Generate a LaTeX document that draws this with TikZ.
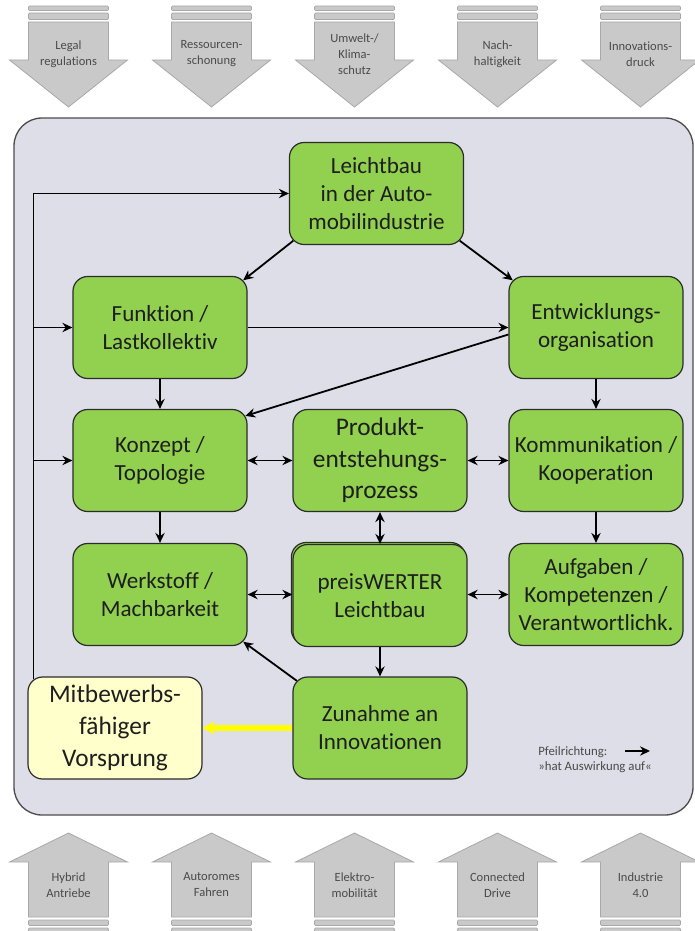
\documentclass[tikz,border=0pt]{standalone}
\usepackage{fontspec}
\setmainfont{Carlito}[Ligatures=NoCommon]
\usetikzlibrary{arrows.meta,calc,shadows}

\definecolor{panelfill}{HTML}{DEDEE8}
\definecolor{panelline}{HTML}{4D4D4D}
\definecolor{boxgreen}{HTML}{92D050}
\definecolor{boxedge}{HTML}{2B2B2B}
\definecolor{boxyellow}{HTML}{FFFFCC}
\definecolor{arrowgray}{HTML}{C9C9C9}
\definecolor{arrowedge}{HTML}{A8A8A8}
\definecolor{txtgray}{HTML}{4A4A4A}
\definecolor{boxtext}{HTML}{1E1E1E}
\definecolor{signal}{HTML}{FFFF00}

\tikzset{
  box/.style={draw=boxedge, line width=0.9pt, fill=boxgreen, rounded corners=11pt,
    minimum width=130.5pt, minimum height=76.5pt, align=center, inner sep=2pt,
    font=\fontsize{17.3}{21}\selectfont, text=boxtext},
  bigtext/.style={font=\fontsize{19}{23.8}\selectfont},
  arrtext/.style={align=center, inner sep=0pt, text=txtgray, font=\fontsize{9.4}{12}\selectfont},
  legendtext/.style={inner sep=0pt, anchor=west, text=txtgray, font=\fontsize{9.6}{11}\selectfont},
  flow/.style={draw=arrowedge, fill=arrowgray, line width=0.6pt, line join=miter},
  stripe/.style={draw=arrowedge, fill=arrowgray, line width=0.5pt, rounded corners=0.8pt},
  link/.style={line width=1.35pt, -{Stealth[length=7.5pt,width=7pt,inset=2.5pt]}},
  both/.style={line width=1.35pt, {Stealth[length=7.5pt,width=7pt,inset=2.5pt]}-{Stealth[length=7.5pt,width=7pt,inset=2.5pt]}},
  gain/.style={draw=signal, line width=3.8pt, -{Stealth[length=9pt,width=10pt,inset=3pt]}},
}

\begin{document}
\begin{tikzpicture}[x=0.75pt, y=-0.75pt]
\useasboundingbox (0,0) rectangle (695,931);

% influences from above
\foreach \c/\t [count=\i] in {68.5/{Legal\\regulations}, 211.5/{Ressourcen-\\schonung},
    354.5/{Umwelt-/\\Klima-\\schutz}, 497.5/{Nach-\\haltigkeit}, 640.5/{Innovations-\\druck}} {
  \draw[stripe] ({\c-40},6) rectangle ({\c+40},10.5);
  \draw[stripe] ({\c-40},13) rectangle ({\c+40},19.5);
  \draw[flow] ({\c-40},22) -- ({\c+40},22) -- ({\c+40},60) -- ({\c+59},60) -- (\c,107)
    -- ({\c-59},60) -- ({\c-40},60) -- cycle;
  \node[arrtext] (top\i) at (\c,54) {\t};
}

% influences from below
\foreach \c/\t [count=\i] in {68.5/{Hybrid\\Antriebe}, 211.5/{Autoromes\\Fahren},
    354.5/{Elektro-\\mobilität}, 497.5/{Connected\\Drive}, 640.5/{Industrie\\4.0}} {
  \draw[flow] ({\c-40},917) -- ({\c-40},862) -- ({\c-59},862) -- (\c,833) -- ({\c+59},862)
    -- ({\c+40},862) -- ({\c+40},917) -- cycle;
  \draw[stripe] ({\c-40},920) rectangle ({\c+40},925.5);
  \draw[stripe] ({\c-40},928) rectangle ({\c+40},934);
  \node[arrtext] (bot\i) at (\c,885) {\t};
}

% background panel
\draw[fill=panelfill, draw=panelline, line width=1pt, rounded corners=21pt]
  (14,118) rectangle (693,815);

% boxes
\node[box] (leicht) at (376.5,193.5) {Leichtbau\\in der Auto-\\mobilindustrie};
\node[box] (funk) at (160,327.5) {Funktion /\\Lastkollektiv};
\node[box] (entw) at (596,327.5) {Entwicklungs-\\organisation};
\node[box] (konz) at (160,460.5) {Konzept /\\Topologie};
\node[box, bigtext] (prod) at (380,460.5) {Produkt-\\entstehungs-\\prozess};
\node[box] (komm) at (596,460.5) {Kommunikation /\\Kooperation};
\node[box] (werk) at (160,594.5) {Werkstoff /\\Machbarkeit};
\node[box, copy shadow={shadow xshift=-1.2pt, shadow yshift=1.5pt}] (preis) at (380,595.5) {preisWERTER\\Leichtbau};
\node[box] (aufg) at (596,594.5) {Aufgaben /\\Kompetenzen /\\Verantwortlichk.};
\node[box] (zun) at (380,728) {Zunahme an\\Innovationen};
\node[box, bigtext, fill=boxyellow] (mit) at (115,728) {Mitbewerbs-\\fähiger\\Vorsprung};

% feedback bus on the left
\coordinate (bus) at ($(mit.north west)+(6,3)$);
\draw[link] (bus) |- (leicht.west);
\draw[link] (bus |- funk.west) -- (funk.west);
\draw[link] (bus |- konz.west) -- (konz.west);

% effects
\draw[link] ([shift={(4.4,-4.4)}]leicht.south west) -- ([shift={(-4.4,4.4)}]funk.north east);
\draw[link] ([shift={(-4.4,-4.4)}]leicht.south east) -- ([shift={(4.4,4.4)}]entw.north west);
\draw[link] (funk.east) -- (entw.west);
\draw[link] ([shift={(0,7)}]entw.west) -- ([shift={(-2.3,7)}]konz.north east);
\draw[link] (funk.south) -- (konz.north);
\draw[link] (entw.south) -- (komm.north);
\draw[link] (konz.south) -- (werk.north);
\draw[link] (komm.south) -- (aufg.north);
\draw[link] (preis.south) -- (zun.north);
\draw[link] ([shift={(4.4,4.4)}]zun.north west) -- ([shift={(-4.4,-4.4)}]werk.south east);

\draw[both] (konz.east) -- (prod.west);
\draw[both] (prod.east) -- (komm.west);
\draw[both] (prod.south) -- (preis.north);
\draw[both] (werk.east) -- (werk.east -| preis.west);
\draw[both] (aufg.west -| preis.east) -- (aufg.west);

\draw[gain] (zun.west) -- (mit.east);

% legend
\node[legendtext] (legA) at (538,752) {Pfeilrichtung:};
\node[legendtext] (legB) at (538,767) {»hat Auswirkung auf«};
\coordinate (legS) at (625,751);
\coordinate (legE) at (650,751);
\draw[link] (legS) -- (legE);
\end{tikzpicture}
\end{document}
